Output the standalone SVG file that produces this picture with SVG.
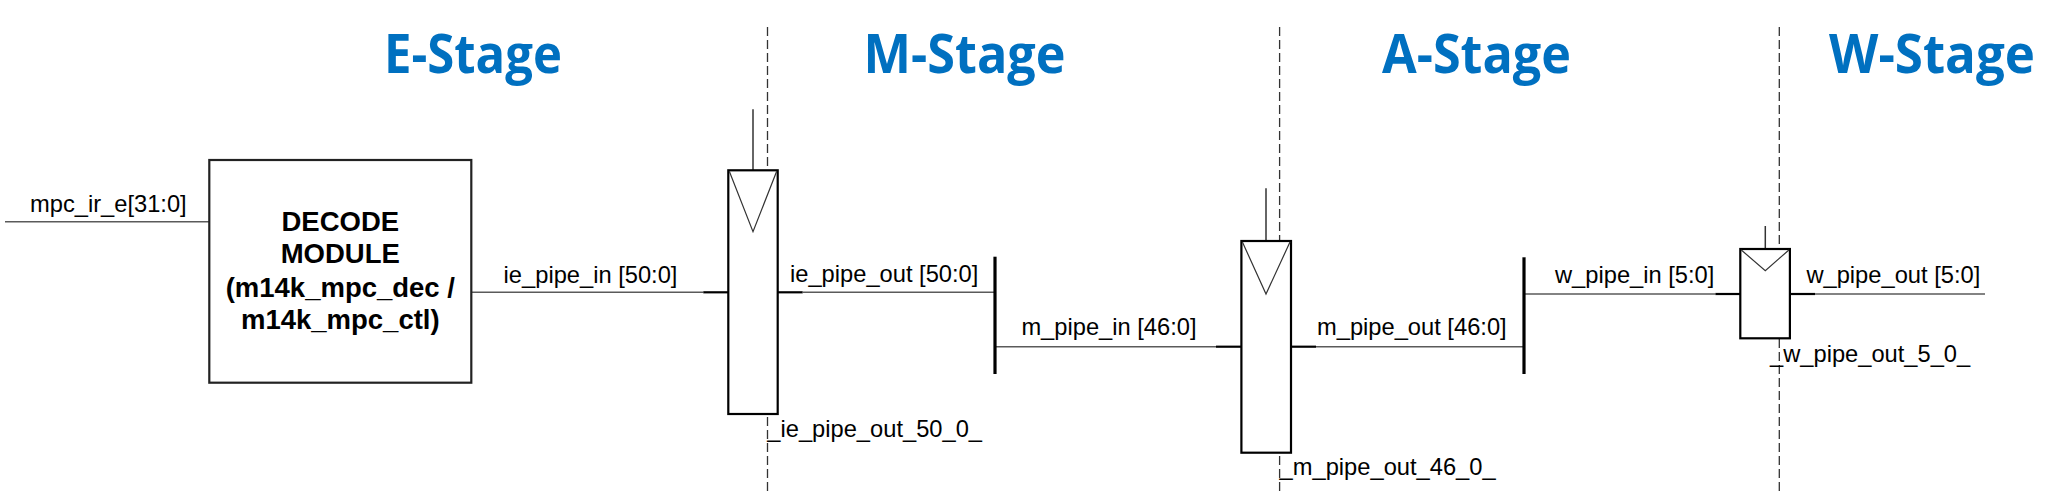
<svg xmlns="http://www.w3.org/2000/svg" width="2071" height="494" viewBox="0 0 2071 494">
<style>
.title{font-family:"Open Sans","Liberation Sans",sans-serif;font-weight:700;font-size:53px;fill:#0070C0}
.lbl{font-family:"Liberation Sans",Arial,sans-serif;font-size:23.7px;fill:#000}
.mod{font-family:"Liberation Sans",Arial,sans-serif;font-size:27.5px;font-weight:700;fill:#000;text-anchor:middle}
.wire{stroke:#5a5a5a;stroke-width:1.6;fill:none}
.stub{stroke:#000;stroke-width:2.2;fill:none}
.bus{stroke:#000;stroke-width:3.2;fill:none}
.reg{fill:#fff;stroke:#000;stroke-width:2.2}
.clk{stroke:#333;stroke-width:1.5;fill:none}
.tri{stroke:#333;stroke-width:1.2;fill:none}
.dash{stroke:#333;stroke-width:1.3;stroke-dasharray:9,4;fill:none}
.box{fill:#fff;stroke:#222;stroke-width:2.2}
</style>
<rect width="2071" height="494" fill="#fff"/>
<g id="stage-boundaries">
<line class="dash" x1="767.5" y1="27" x2="767.5" y2="494"/>
<line class="dash" x1="1279.6" y1="27" x2="1279.6" y2="494"/>
<line class="dash" x1="1779.3" y1="27" x2="1779.3" y2="494"/>
</g>
<g id="titles">
<text class="title" x="384" y="72.7" textLength="178" lengthAdjust="spacingAndGlyphs">E-Stage</text>
<text class="title" x="863.6" y="72.7" textLength="202" lengthAdjust="spacingAndGlyphs">M-Stage</text>
<text class="title" x="1382" y="72.7" textLength="189" lengthAdjust="spacingAndGlyphs">A-Stage</text>
<text class="title" x="1829" y="72.7" textLength="206" lengthAdjust="spacingAndGlyphs">W-Stage</text>
</g>
<g id="connectors">
<line class="wire" x1="5" y1="221.7" x2="209.3" y2="221.7"/>
<line class="wire" x1="471.3" y1="292.3" x2="703.3" y2="292.3"/>
<line class="stub" x1="703.3" y1="292.3" x2="728.3" y2="292.3"/>
<line class="stub" x1="777.7" y1="292.3" x2="802.7" y2="292.3"/>
<line class="wire" x1="802.7" y1="292.3" x2="995" y2="292.3"/>
<line class="wire" x1="995" y1="346.7" x2="1216" y2="346.7"/>
<line class="stub" x1="1216" y1="346.7" x2="1241.4" y2="346.7"/>
<line class="stub" x1="1291" y1="346.7" x2="1316" y2="346.7"/>
<line class="wire" x1="1316" y1="346.7" x2="1524" y2="346.7"/>
<line class="wire" x1="1524" y1="294" x2="1715.4" y2="294"/>
<line class="stub" x1="1715.4" y1="294" x2="1740.3" y2="294"/>
<line class="stub" x1="1789.9" y1="294" x2="1815" y2="294"/>
<line class="wire" x1="1815" y1="294" x2="1985" y2="294"/>
<line class="clk" x1="753" y1="109.3" x2="753" y2="170.3"/>
<line class="clk" x1="1266" y1="188.3" x2="1266" y2="241"/>
<line class="clk" x1="1765.3" y1="226" x2="1765.3" y2="249"/>
</g>
<g id="decode-module">
<rect class="box" x="209.3" y="160" width="262" height="222.7"/>
<text class="mod" x="340.3" y="230.7">DECODE</text>
<text class="mod" x="340.3" y="263.3">MODULE</text>
<text class="mod" x="340.3" y="296.7">(m14k_mpc_dec /</text>
<text class="mod" x="340.3" y="329.3">m14k_mpc_ctl)</text>
</g>
<g id="reg-ie-pipe">
<rect class="reg" x="728.3" y="170.3" width="49.4" height="243.7"/>
<polyline class="tri" points="729.3,171.3 753,231.7 776.7,171.3"/>
</g>
<g id="bus-m">
<line class="bus" x1="995" y1="256.7" x2="995" y2="374"/>
</g>
<g id="reg-m-pipe">
<rect class="reg" x="1241.4" y="241" width="49.6" height="211.7"/>
<polyline class="tri" points="1242.4,242 1266,294 1290,242"/>
</g>
<g id="bus-a">
<line class="bus" x1="1524" y1="257.3" x2="1524" y2="374"/>
</g>
<g id="reg-w-pipe">
<rect class="reg" x="1740.3" y="249" width="49.6" height="89.3"/>
<polyline class="tri" points="1741.3,250 1765.3,270.7 1788.9,250"/>
</g>
<g id="labels">
<text class="lbl" x="30" y="211.7">mpc_ir_e[31:0]</text>
<text class="lbl" x="503.6" y="282.5">ie_pipe_in [50:0]</text>
<text class="lbl" x="790" y="282">ie_pipe_out [50:0]</text>
<text class="lbl" x="767.3" y="437">_ie_pipe_out_50_0_</text>
<text class="lbl" x="1021.4" y="335">m_pipe_in [46:0]</text>
<text class="lbl" x="1317" y="335">m_pipe_out [46:0]</text>
<text class="lbl" x="1279.6" y="475">_m_pipe_out_46_0_</text>
<text class="lbl" x="1555" y="282.7">w_pipe_in [5:0]</text>
<text class="lbl" x="1806.4" y="282.7">w_pipe_out [5:0]</text>
<text class="lbl" x="1770" y="361.7">_w_pipe_out_5_0_</text>
</g>
</svg>
